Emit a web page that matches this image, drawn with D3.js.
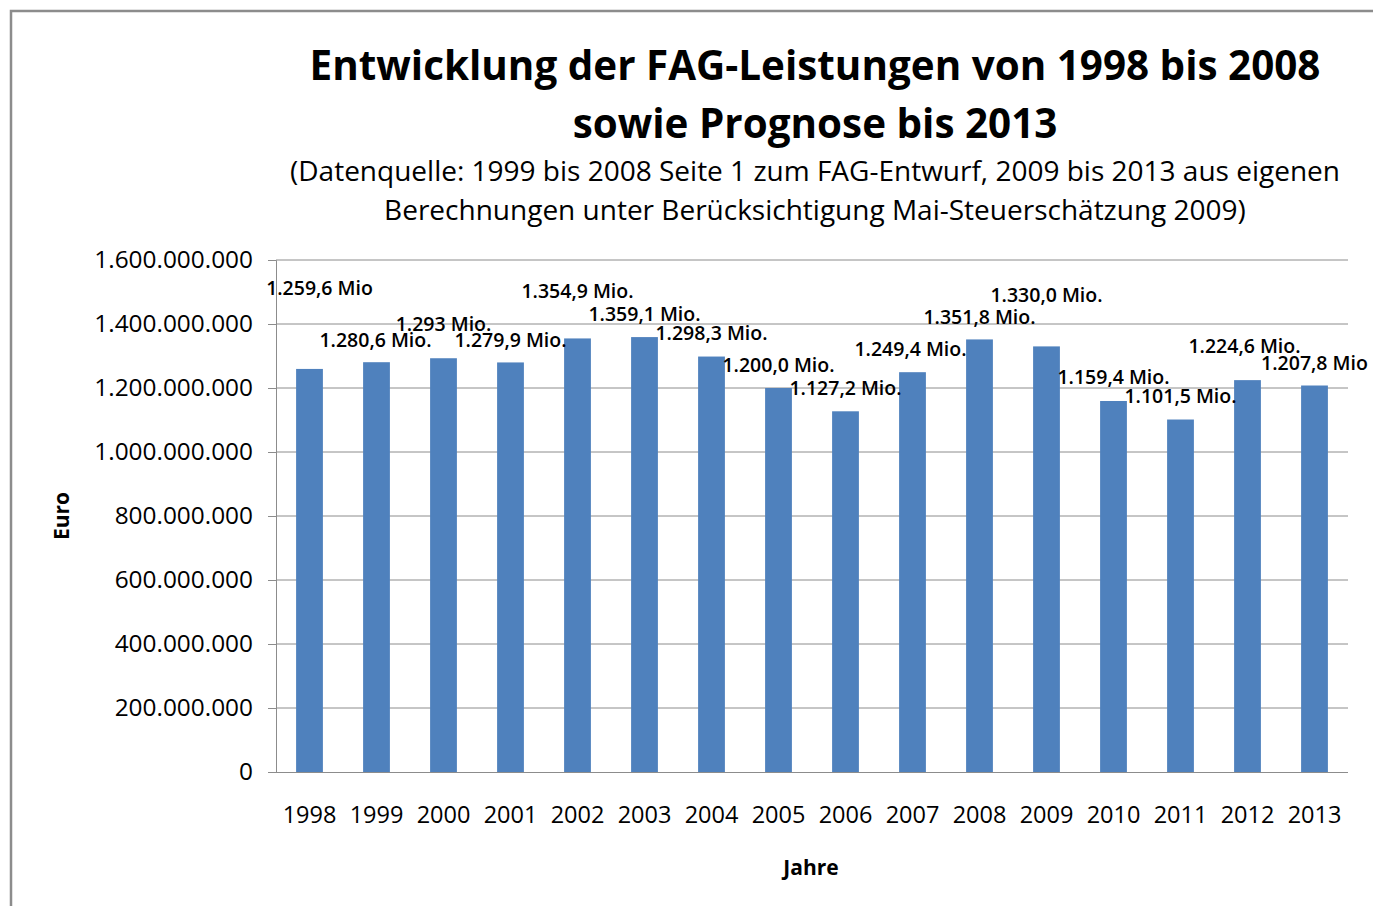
<!DOCTYPE html>
<html>
<head>
<meta charset="utf-8">
<script src="https://d3js.org/d3.v7.min.js"></script>
<style>
  body { margin: 0; background: #fff; }
  text { font-family: "Open Sans", "Noto Sans", sans-serif; fill: #000; }
</style>
</head>
<body>
<div id="chart"></div>
<script>
const years = ["1998", "1999", "2000", "2001", "2002", "2003", "2004", "2005",
               "2006", "2007", "2008", "2009", "2010", "2011", "2012", "2013"];
const values = [1259.6e6, 1280.6e6, 1293.0e6, 1279.9e6, 1354.9e6, 1359.1e6, 1298.3e6, 1200.0e6,
                1127.2e6, 1249.4e6, 1351.8e6, 1330.0e6, 1159.4e6, 1101.5e6, 1224.6e6, 1207.8e6];
const labels = ["1.259,6 Mio", "1.280,6 Mio.", "1.293 Mio.", "1.279,9 Mio.", "1.354,9 Mio.", "1.359,1 Mio.",
                "1.298,3 Mio.", "1.200,0 Mio.", "1.127,2 Mio.", "1.249,4 Mio.", "1.351,8 Mio.", "1.330,0 Mio.",
                "1.159,4 Mio.", "1.101,5 Mio.", "1.224,6 Mio.", "1.207,8 Mio"];
const yTicks = [0, 200e6, 400e6, 600e6, 800e6, 1000e6, 1200e6, 1400e6, 1600e6];

// Label-Versatz gegenüber dem Balkenkopf (manuell verschobene Beschriftungen)
const labelShift = [[10, -81], [-1, -23], [0, -35], [0, -23], [0, -48], [0, -24], [0, -24], [0, -24],
                    [0, -24], [-2, -24], [0, -23], [0, -52], [0, -24], [0, -24], [-3, -35], [0, -23]];

const W = 1373, H = 906;
const margin = { top: 260, right: 25, bottom: 134, left: 276 };
const width = W - margin.left - margin.right,
      height = H - margin.top - margin.bottom;

const svg = d3.select("#chart").append("svg")
    .attr("width", W).attr("height", H);

// Rahmen
svg.append("rect")
    .attr("x", 11).attr("y", 11)
    .attr("width", W + 20).attr("height", H + 20)
    .attr("fill", "none").attr("stroke", "#8c8c8c").attr("stroke-width", 2.5);

// Titel
const title = svg.append("g").attr("text-anchor", "middle");
title.append("text").attr("x", 815).attr("y", 80)
    .style("font-size", "40.4px").style("font-weight", "bold")
    .text("Entwicklung der FAG-Leistungen von 1998 bis 2008");
title.append("text").attr("x", 815).attr("y", 138)
    .style("font-size", "40.4px").style("font-weight", "bold")
    .text("sowie Prognose bis 2013");
title.append("text").attr("x", 815).attr("y", 181)
    .style("font-size", "28px")
    .text("(Datenquelle: 1999 bis 2008 Seite 1 zum FAG-Entwurf, 2009 bis 2013 aus eigenen");
title.append("text").attr("x", 815).attr("y", 220)
    .style("font-size", "28px")
    .text("Berechnungen unter Berücksichtigung Mai-Steuerschätzung 2009)");

const g = svg.append("g").attr("transform", `translate(${margin.left},${margin.top})`);

const x = d3.scaleBand().domain(years).range([0, width]).paddingInner(0.6).paddingOuter(0.3);
const y = d3.scaleLinear().domain([0, 1600e6]).range([height, 0]);

const fmt = d => d3.format(",")(d).replace(/,/g, ".");

// Gitternetz + y-Achse
const yAxis = g.append("g")
    .call(d3.axisLeft(y).tickValues(yTicks).tickFormat(fmt).tickSize(8).tickPadding(15));
yAxis.select(".domain").attr("stroke", "#8c8c8c");
yAxis.selectAll(".tick line").attr("stroke", "#8c8c8c");
yAxis.selectAll(".tick text").style("font-size", "24.4px").attr("fill", "#000");

g.append("g").selectAll("line")
    .data(yTicks.slice(1))
    .join("line")
    .attr("x1", 0).attr("x2", width)
    .attr("y1", d => y(d)).attr("y2", d => y(d))
    .attr("stroke", "#8c8c8c").attr("stroke-width", 1);

// Balken
g.selectAll(".bar")
    .data(values)
    .join("rect")
    .attr("class", "bar")
    .attr("x", (d, i) => x(years[i]))
    .attr("y", d => y(d))
    .attr("width", x.bandwidth())
    .attr("height", d => height - y(d))
    .attr("fill", "#4f81bd");

// x-Achse
const xAxis = g.append("g")
    .attr("transform", `translate(0,${height})`)
    .call(d3.axisBottom(x).tickSize(0).tickPadding(34));
xAxis.select(".domain").attr("stroke", "#8c8c8c").attr("d", `M-8,0.5H${width}`);
xAxis.selectAll(".tick text").style("font-size", "23.5px").attr("fill", "#000");

// Datenbeschriftungen
g.selectAll(".lbl")
    .data(values)
    .join("text")
    .attr("class", "lbl")
    .attr("text-anchor", "middle")
    .attr("dominant-baseline", "central")
    .attr("x", (d, i) => x(years[i]) + x.bandwidth() / 2 + labelShift[i][0])
    .attr("y", (d, i) => y(d) + labelShift[i][1])
    .style("font-size", "19.5px").style("font-weight", 600)
    .text((d, i) => labels[i]);

// Achsentitel
svg.append("text")
    .attr("transform", "translate(69,516) rotate(-90)")
    .attr("text-anchor", "middle")
    .style("font-size", "21px").style("font-weight", "bold")
    .text("Euro");
svg.append("text")
    .attr("x", 811).attr("y", 875)
    .attr("text-anchor", "middle")
    .style("font-size", "21px").style("font-weight", "bold")
    .text("Jahre");
</script>
</body>
</html>
